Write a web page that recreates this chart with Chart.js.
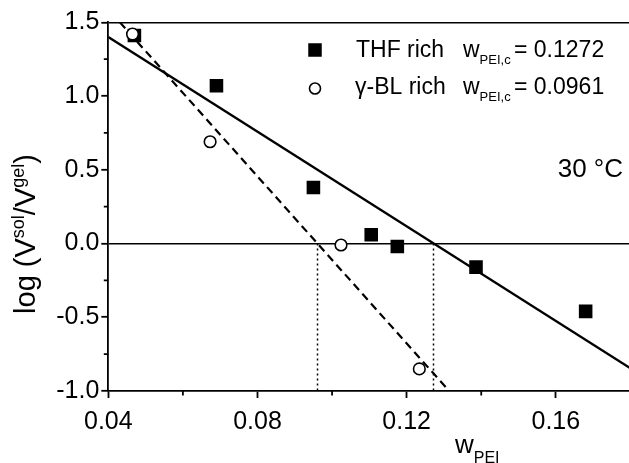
<!DOCTYPE html>
<html>
<head>
<meta charset="utf-8">
<script src="https://cdn.jsdelivr.net/npm/chart.js@4/dist/chart.umd.min.js"></script>
<style>
html,body{margin:0;padding:0;background:#fff;overflow:hidden;width:629px;height:463px;}
#wrap{position:absolute;left:0;top:0;width:640px;height:463px;}
</style>
</head>
<body>
<div id="wrap"><canvas id="c" width="640" height="463"></canvas></div>
<script>
// ---- data ----
const thfW   = [0.047, 0.069, 0.095, 0.1105, 0.1175, 0.1386, 0.168];
const thfLog = [1.41, 1.07, 0.38, 0.06, -0.02, -0.16, -0.46];
const gblW   = [0.0465, 0.0673, 0.1024, 0.1234];
const gblLog = [1.42, 0.69, -0.01, -0.85];
const thfFitW   = [0.04, 0.18];
const thfFitLog = [1.40, -0.846];
const gblFitW   = [0.0431, 0.1307];
const gblFitLog = [1.5, -0.98];
const criticalW = [0.1272, 0.0961];
const xRange = [0.04, 0.18];
const yRange = [-1.0, 1.5];
const xMinorTicks = [0.06, 0.10, 0.14, 0.18];
const yMinorTicks = [1.25, 0.75, 0.25, -0.25, -0.75];
const legendLabels = ["THF rich", "\u03B3-BL rich"];
const legendValues = ["= 0.1272", "= 0.0961"];
const tempLabel = "30 \u00B0C";

const FONT = "'Liberation Sans', Arial, Helvetica, sans-serif";
const pts = (xs, ys) => xs.map((x, i) => ({x: x, y: ys[i]}));

function richText(ctx, x, y, parts) {
  // parts: [text, size, dy]
  let cx = x;
  for (const p of parts) {
    ctx.font = p[1] + 'px ' + FONT;
    ctx.fillText(p[0], cx, y + (p[2] || 0));
    cx += ctx.measureText(p[0]).width;
  }
  return cx;
}

const extras = {
  id: 'extras',
  afterDraw(chart) {
    const ctx = chart.ctx, xs = chart.scales.x, ys = chart.scales.y;
    const a = chart.chartArea;
    ctx.save();
    // minor ticks
    ctx.strokeStyle = '#000'; ctx.lineWidth = 1.8;
    ctx.beginPath();
    xMinorTicks.forEach(v => { const p = xs.getPixelForValue(v); ctx.moveTo(p, a.bottom); ctx.lineTo(p, a.bottom + 4.5); });
    yMinorTicks.forEach(v => { const p = ys.getPixelForValue(v); ctx.moveTo(a.left, p); ctx.lineTo(a.left - 4.5, p); });
    ctx.stroke();

    ctx.fillStyle = '#000';
    ctx.textBaseline = 'alphabetic';
    ctx.textAlign = 'left';
    // legend row 1: filled square
    ctx.fillRect(315 - 6.75, 50 - 6.75, 13.5, 13.5);
    richText(ctx, 356, 57, [[legendLabels[0], 23]]);
    richText(ctx, 463, 57, [["w", 23], ["PEI,c", 13, 7]]);
    richText(ctx, 514, 57, [[legendValues[0], 23]]);
    // legend row 2: open circle
    ctx.beginPath(); ctx.arc(315, 88.5, 5.5, 0, Math.PI * 2);
    ctx.fillStyle = '#fff'; ctx.fill(); ctx.lineWidth = 1.6; ctx.strokeStyle = '#000'; ctx.stroke();
    ctx.fillStyle = '#000';
    richText(ctx, 355, 94, [[legendLabels[1], 23]]);
    richText(ctx, 463, 94, [["w", 23], ["PEI,c", 13, 7]]);
    richText(ctx, 514, 94, [[legendValues[1], 23]]);
    // temperature
    ctx.font = '26px ' + FONT; ctx.textAlign = 'right';
    ctx.fillText(tempLabel, 623, 177);
    ctx.textAlign = 'left';
    // x title
    richText(ctx, 455, 453, [["w", 26], ["PEI", 16, 10]]);
    // y title (rotated)
    ctx.save();
    ctx.translate(35, 234);
    ctx.rotate(-Math.PI / 2);
    const yParts = [["log (V", 29], ["sol", 18, -11], ["/V", 29], ["gel", 18, -11], [")", 29]];
    let w = 0;
    yParts.forEach(p => { ctx.font = p[1] + 'px ' + FONT; w += ctx.measureText(p[0]).width; });
    richText(ctx, -w / 2, 0, yParts);
    ctx.restore();
    ctx.restore();
  }
};

new Chart(document.getElementById('c'), {
  type: 'scatter',
  data: {
    datasets: [
      { label: 'THF fit', data: pts(thfFitW, thfFitLog), showLine: true, borderColor: '#000', borderWidth: 2.2, pointRadius: 0, order: 5 },
      { label: 'γ-BL fit', data: pts(gblFitW, gblFitLog), showLine: true, borderColor: '#000', borderWidth: 2.2, borderDash: [8, 5], pointRadius: 0, order: 5 },
      { label: 'wc THF', data: pts([criticalW[0], criticalW[0]], [0, yRange[0]]), showLine: true, borderColor: '#000', borderWidth: 1.5, borderDash: [2, 3], pointRadius: 0, order: 6 },
      { label: 'wc γ-BL', data: pts([criticalW[1], criticalW[1]], [0, yRange[0]]), showLine: true, borderColor: '#000', borderWidth: 1.5, borderDash: [2, 3], pointRadius: 0, order: 6 },
      { label: 'THF rich', data: pts(thfW, thfLog), pointStyle: 'rect', pointRadius: 9.6, backgroundColor: '#000', borderColor: '#000', borderWidth: 0, order: 1 },
      { label: 'γ-BL rich', data: pts(gblW, gblLog), pointStyle: 'circle', pointRadius: 5.8, backgroundColor: '#fff', borderColor: '#000', borderWidth: 1.6, order: 0 }
    ]
  },
  options: {
    responsive: false, animation: false, devicePixelRatio: 1,
    layout: { padding: { top: 22.3, right: 9.5, bottom: 0, left: 0 } },
    plugins: { legend: { display: false }, tooltip: { enabled: false } },
    scales: {
      x: {
        type: 'linear', min: xRange[0], max: xRange[1],
        afterFit(s) { s.height = 72; },
        ticks: { stepSize: 0.04, includeBounds: false, autoSkip: false, maxRotation: 0, padding: 9, color: '#000',
                 font: { family: FONT, size: 25 }, callback: v => v.toFixed(2) },
        grid: { drawOnChartArea: false, tickLength: 7, tickColor: '#000', tickWidth: 1.8 },
        border: { color: '#000', width: 1.8 }
      },
      y: {
        type: 'linear', min: yRange[0], max: yRange[1],
        afterFit(s) { s.width = 108.3; },
        ticks: { stepSize: 0.5, padding: 2, color: '#000', font: { family: FONT, size: 25 }, callback: v => v.toFixed(1) },
        grid: {
          color: c => (c.tick && (Math.abs(c.tick.value) < 1e-9 || Math.abs(c.tick.value - 1.5) < 1e-9)) ? '#000' : 'rgba(0,0,0,0)',
          lineWidth: 1.6, tickLength: 7, tickColor: '#000', tickWidth: 1.8
        },
        border: { color: '#000', width: 1.8 }
      }
    }
  },
  plugins: [extras]
});
</script>
</body>
</html>
